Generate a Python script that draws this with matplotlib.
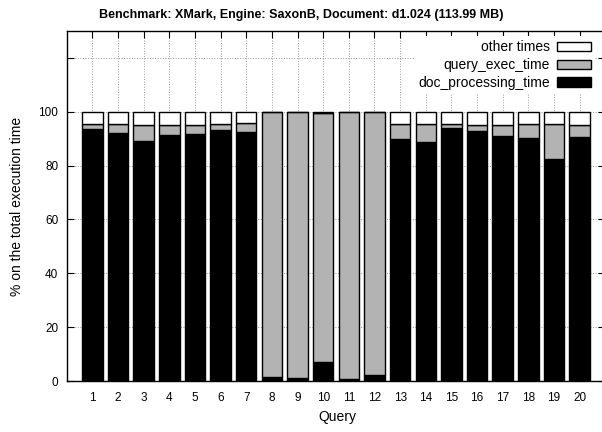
import matplotlib
matplotlib.use('Agg')
import matplotlib.pyplot as plt
import numpy as np

plt.rcParams['font.family'] = ['Liberation Sans', 'DejaVu Sans']

queries = list(range(1, 21))
doc_processing_time = [93.6, 92.1, 89.1, 91.3, 91.9, 93.4, 92.4, 1.5, 1.2, 6.9,
                       0.6, 2.1, 90.0, 88.9, 93.8, 92.7, 91.1, 90.3, 82.5, 90.6]
query_exec_time = [1.9, 3.4, 6.1, 3.9, 3.3, 2.1, 3.4, 98.5, 98.8, 92.7,
                   99.4, 97.8, 5.5, 6.6, 1.6, 2.5, 4.1, 5.1, 13.0, 4.6]
other_times = [4.5, 4.5, 4.8, 4.8, 4.8, 4.5, 4.2, 0.0, 0.0, 0.4,
               0.0, 0.1, 4.5, 4.5, 4.6, 4.8, 4.8, 4.6, 4.5, 4.8]
yticks = [0, 20, 40, 60, 80, 100, 120]
ytick_labels = ['0', '20', '40', '60', '80', '100', '']

W, H = 602, 432
fig = plt.figure(figsize=(W / 100, H / 100), dpi=100)
ax = fig.add_axes([66.7 / W, (H - 381) / H, (605.3 - 66.7) / W, (381 - 31) / H])

doc = np.array(doc_processing_time)
qry = np.array(query_exec_time)
oth = np.array(other_times)
kw = dict(width=0.8, edgecolor='black', linewidth=1.0, zorder=3)
b1 = ax.bar(queries, doc, color='black', **kw)
b2 = ax.bar(queries, qry, bottom=doc, color='#b3b3b3', **kw)
b3 = ax.bar(queries, oth, bottom=doc + qry, color='white', **kw)

ax.set_xlim(0, 21)
ax.set_ylim(0, 130)
ax.set_xticks(queries)
ax.set_yticks(yticks)
ax.set_yticklabels(ytick_labels)
ax.tick_params(direction='in', top=True, right=True, length=5, width=0.8,
               labelsize=8.5)
ax.tick_params(axis='x', pad=8)
ax.tick_params(axis='y', pad=6)
ax.grid(True, linestyle=':', color='#999999', linewidth=0.7)
ax.set_axisbelow(True)
for s in ax.spines.values():
    s.set_linewidth(1.0)

leg = ax.legend([b3, b2, b1], ['other times', 'query_exec_time', 'doc_processing_time'],
                loc='upper right', bbox_to_anchor=(595 / W, (H - 36) / H),
                bbox_transform=fig.transFigure, markerfirst=False, fontsize=10,
                handlelength=2.45, handleheight=0.65, handletextpad=0.5,
                labelspacing=0.28, borderpad=0.3, borderaxespad=0,
                frameon=True, fancybox=False, framealpha=1)
leg.get_frame().set_edgecolor('none')
leg.get_frame().set_facecolor('white')
leg.set_zorder(5)

fig.text(0.5, 1 - 15 / H, 'Benchmark: XMark, Engine: SaxonB, Document: d1.024 (113.99 MB)',
         ha='center', va='center', fontsize=9, fontweight='bold')
fig.text(337 / W, 1 - 417 / H, 'Query', ha='center', va='center', fontsize=10)
fig.text(17 / W, 1 - 206 / H, '% on the total execution time', ha='center', va='center',
         rotation=90, fontsize=10)

fig.savefig('out.png', dpi=100)
